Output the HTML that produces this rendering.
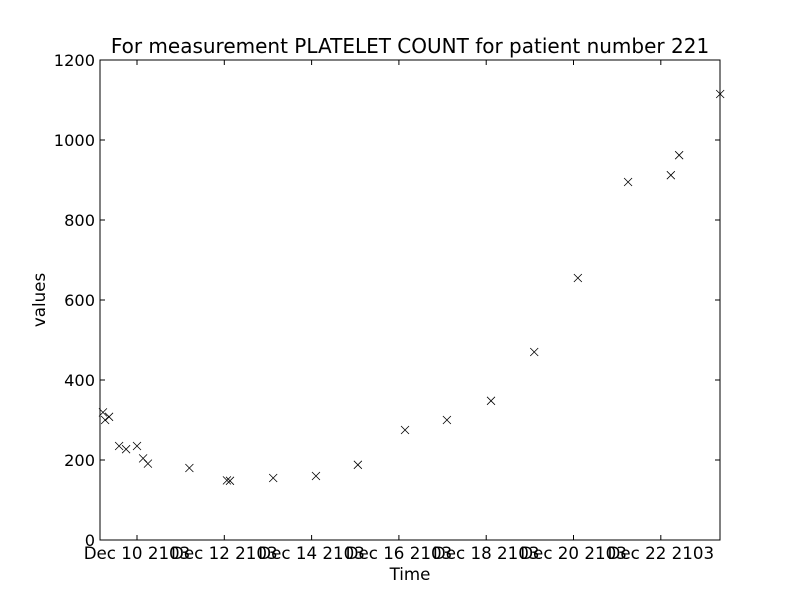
<!DOCTYPE html>
<html><head><meta charset="utf-8"><style>
body{margin:0;background:#fff;}
svg text{font-family:"DejaVu Sans","Liberation Sans",sans-serif;}
</style></head><body>
<svg width="800" height="600" xmlns="http://www.w3.org/2000/svg">
<rect width="800" height="600" fill="#fff"/>
<text x="410" y="53" font-size="20" text-anchor="middle">For measurement PLATELET COUNT for patient number 221</text>
<g id="axes"></g>
<g id="marks"></g>
<rect x="100" y="60" width="620" height="480" fill="none" stroke="#000" stroke-width="1"/>
<text x="410" y="580" font-size="16.7" text-anchor="middle">Time</text>
<text x="45" y="300" font-size="16.7" text-anchor="middle" transform="rotate(-90 45 300)">values</text>
</svg>
<script>
const days = [-0.78,-0.73,-0.64,-0.41,-0.25,0,0.14,0.25,1.2,2.06,2.13,3.12,4.10,5.06,6.14,7.10,8.11,9.10,10.10,11.25,12.23,12.42,13.36];
const values = [319,300,308,235,227,235,204,191,180,149,148,155,160,188,275,300,348,470,655,895,912,962,1115];
const xTickDays = [0,2,4,6,8,10,12];
const xTickLabels = ["Dec 10 2103","Dec 12 2103","Dec 14 2103","Dec 16 2103","Dec 18 2103","Dec 20 2103","Dec 22 2103"];
const yTicks = [0,200,400,600,800,1000,1200];
const xMin=-0.8477, xMax=13.356, yMin=0, yMax=1200;
const L=100,R=720,T=60,B=540;
const xs=d=>L+(d-xMin)/(xMax-xMin)*(R-L);
const ys=v=>B-(v-yMin)/(yMax-yMin)*(B-T);
const NS="http://www.w3.org/2000/svg";
const ax=document.getElementById('axes'), mk=document.getElementById('marks');
function el(tag,attrs,parent){const e=document.createElementNS(NS,tag);for(const k in attrs)e.setAttribute(k,attrs[k]);parent.appendChild(e);return e;}
yTicks.forEach(v=>{
  const y=ys(v);
  const t1=el('line',{x1:L,x2:L+5,y1:y,y2:y,stroke:'#000'},ax);
  
  
  el('line',{x1:R-5,x2:R,y1:y,y2:y,stroke:'#000'},ax);
  const t=el('text',{x:L-5,y:y+6,'font-size':16.2,'text-anchor':'end'},ax);
  t.textContent=v;
  
  
});
xTickDays.forEach((d,i)=>{
  const x=xs(d);
  const t1=el('line',{x1:x,x2:x,y1:B-5,y2:B,stroke:'#000'},ax);
  
  
  el('line',{x1:x,x2:x,y1:T,y2:T+5,stroke:'#000'},ax);
  const t=el('text',{x:x,y:B+19,'font-size':16.7,'text-anchor':'middle'},ax);
  t.textContent=xTickLabels[i];
  
  
});
days.forEach((d,i)=>{
  const x=xs(d),y=ys(values[i]),s=4;
  const p=el('path',{d:`M${x-s},${y-s}L${x+s},${y+s}M${x-s},${y+s}L${x+s},${y-s}`,stroke:'#000','stroke-width':0.8,fill:'none'},mk);
  
  
});
</script>
</body></html>
